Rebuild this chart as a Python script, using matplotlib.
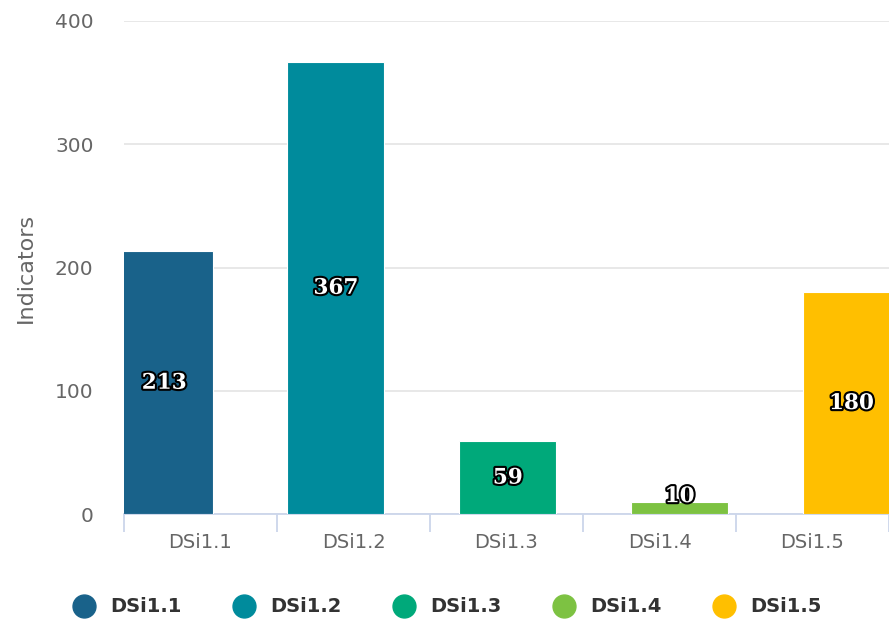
import numpy as np
import matplotlib
matplotlib.use("Agg")
import matplotlib.pyplot as plt
import matplotlib.patheffects as pe
from matplotlib.lines import Line2D

# ====================== DADOS ======================
categories = ["DSi1.1", "DSi1.2", "DSi1.3", "DSi1.4", "DSi1.5"]
values = [213, 367, 59, 10, 180]
colors = ["#19628a", "#008b9c", "#00a97a", "#7dc242", "#ffbf00"]
y_ticks = [0, 100, 200, 300, 400]

# layout (a chart renderizada tem barras desalinhadas com as categorias)
BAR_OFFSET = -0.238
BAR_STEP = 1.123
BAR_WIDTH = 0.635

W, H = 889, 626
fig = plt.figure(figsize=(W / 100, H / 100), dpi=100)
ax = fig.add_axes([124 / W, 1 - 514 / H, 1 - 124 / W, (514 - 21) / H])

bar_x = BAR_OFFSET + BAR_STEP * np.arange(len(values))
ax.bar(bar_x, values, width=BAR_WIDTH, color=colors, edgecolor="white",
       linewidth=0.8, zorder=3)

# rótulos dentro das barras
for x, v in zip(bar_x, values):
    ax.text(x, max(v / 2, 14.5), str(v), ha="center", va="center",
            fontsize=15.5, fontweight="bold", family="DejaVu Serif", color="white",
            path_effects=[pe.withStroke(linewidth=3, foreground="black")], zorder=5)

ax.set_xlim(-0.5, -0.5 + (W - 124) / 154)
ax.set_ylim(0, 400)

ax.set_yticks(y_ticks)
ax.set_yticklabels([str(t) for t in y_ticks])
ax.tick_params(axis="y", length=0, pad=22, labelsize=14.5, labelcolor="#666666")
ax.yaxis.grid(True, color="#e6e6e6", linewidth=1.3, zorder=0)
ax.set_axisbelow(True)

ax.set_xticks(range(len(categories)))
ax.set_xticklabels(categories)
ax.set_xticks(np.arange(len(categories) + 1) - 0.5, minor=True)
ax.tick_params(axis="x", which="major", length=0, pad=14, labelsize=14,
               labelcolor="#666666")
ax.tick_params(axis="x", which="minor", length=13, width=1.3, color="#ccd6eb")

for s in ["top", "right", "left"]:
    ax.spines[s].set_visible(False)
ax.spines["bottom"].set_color("#ccd6eb")
ax.spines["bottom"].set_linewidth(1.3)

ax.set_ylabel("Indicators", fontsize=16, color="#666666", labelpad=14)

# legenda
handles = [Line2D([0], [0], marker="o", linestyle="none", markersize=16.5,
                  markerfacecolor=c, markeredgecolor=c) for c in colors]
fig.legend(handles, categories, loc="center", bbox_to_anchor=(447 / W, 19 / H),
           ncol=5, frameon=False, handlelength=1.2, handletextpad=0.75,
           columnspacing=2.6, prop={"size": 14, "weight": "bold"},
           labelcolor="#333333")

fig.savefig("out.png", dpi=100)
